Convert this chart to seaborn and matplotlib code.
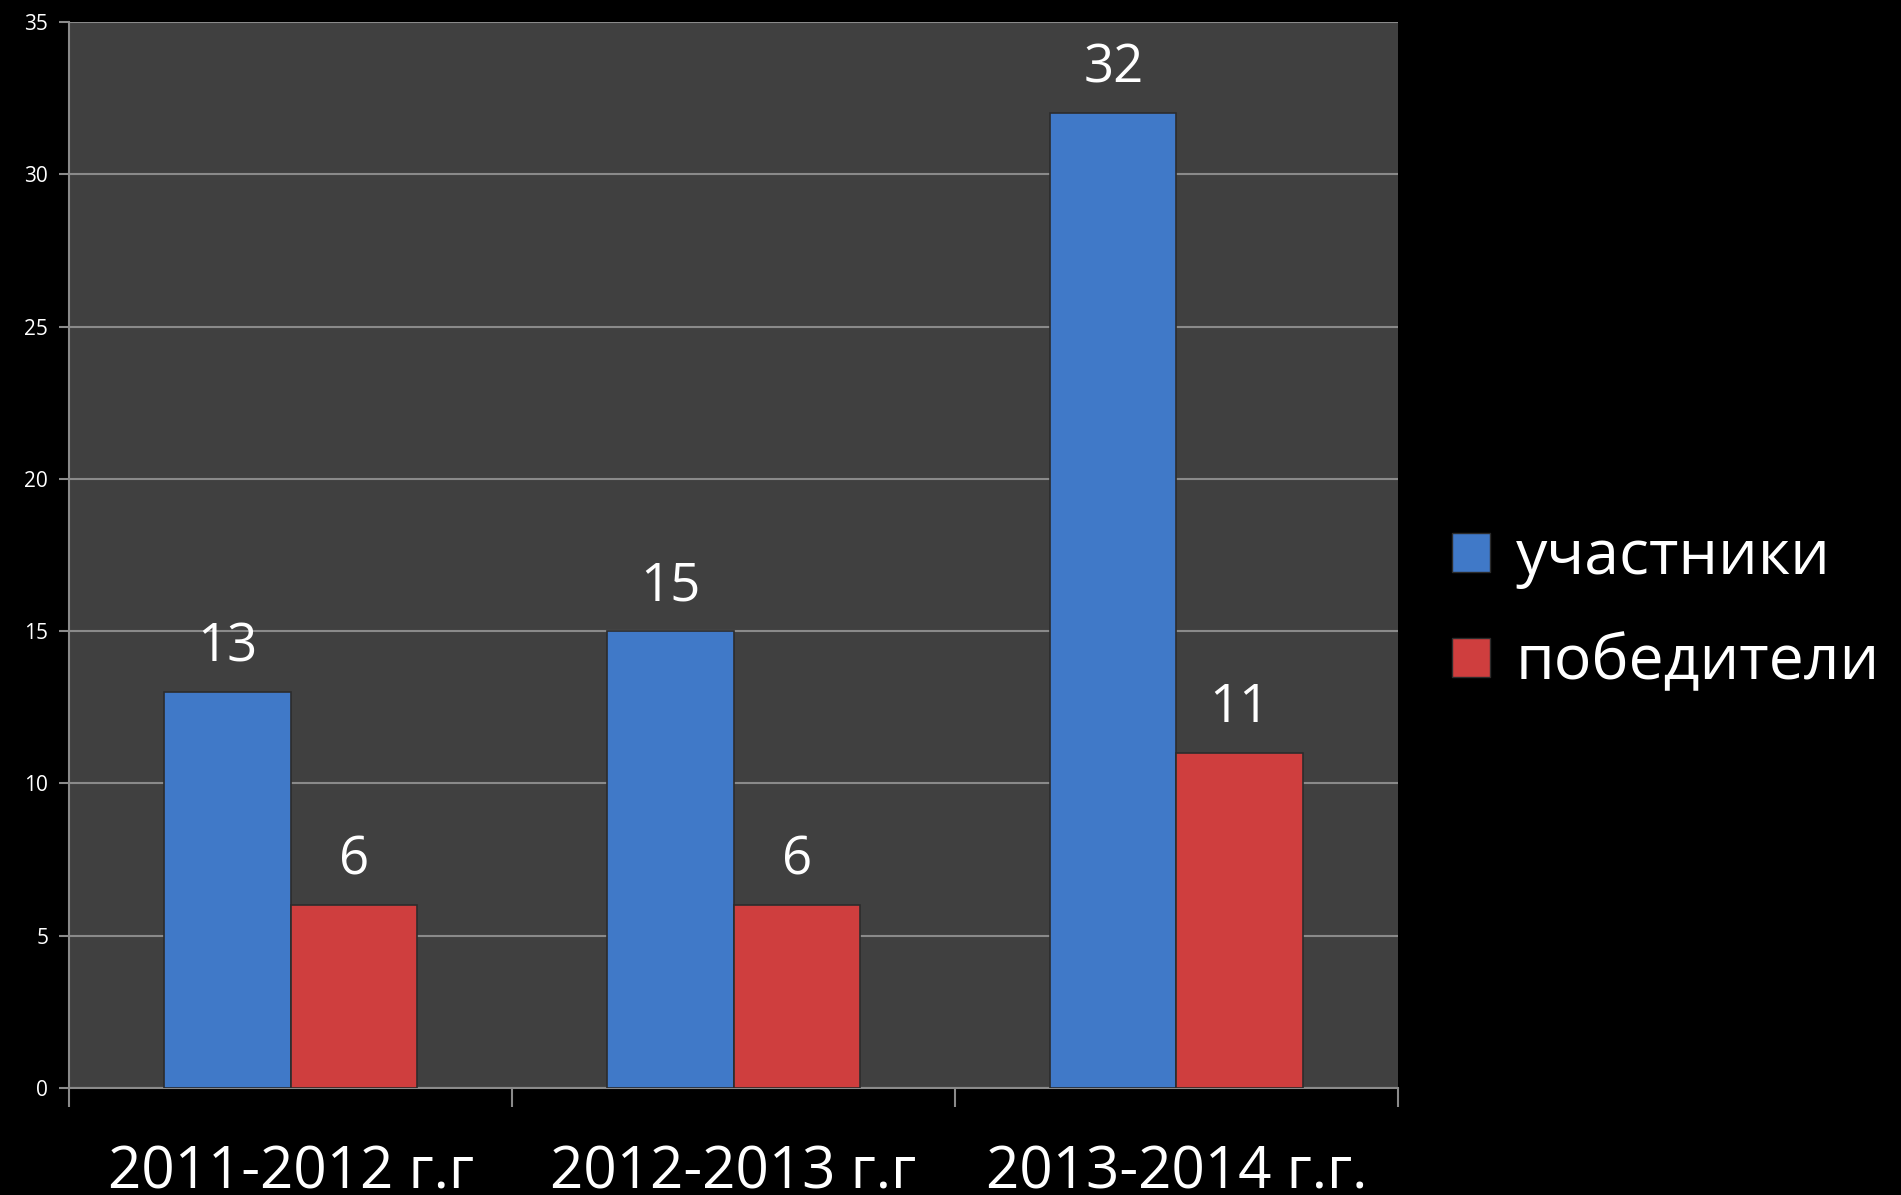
import matplotlib
matplotlib.use("Agg")
import matplotlib.pyplot as plt
import seaborn as sns
import pandas as pd
from matplotlib.patches import Patch

categories = ["2011-2012 г.г", "2012-2013 г.г", "2013-2014 г.г."]
series_names = ["участники", "победители"]
participants = [13, 15, 32]
winners = [6, 6, 11]
y_ticks = [0, 5, 10, 15, 20, 25, 30, 35]

df = pd.DataFrame({
    "cat": categories * 2,
    "series": [series_names[0]] * 3 + [series_names[1]] * 3,
    "value": participants + winners,
})

sns.set_theme(style="dark")
plt.rcParams["font.family"] = ["Open Sans", "DejaVu Sans"]

fig = plt.figure(figsize=(19.01, 11.95), dpi=100, facecolor="black")
ax = fig.add_axes([0.0363, 0.0895, 0.6991, 0.8921])
ax.set_facecolor("#404040")

palette = {series_names[0]: "#4079c8", series_names[1]: "#cf3e3e"}
sns.barplot(data=df, x="cat", y="value", hue="series", palette=palette,
            width=0.57, ax=ax, saturation=1, legend=False,
            edgecolor="#2c2c2c", linewidth=1.2, zorder=3)

for c in ax.containers:
    ax.bar_label(c, padding=13, color="white", fontsize=38)

ax.set_ylim(0, 35)
ax.set_xlim(-0.5, 2.5)
ax.set_yticks(y_ticks)
ax.set_yticklabels([str(t) for t in y_ticks], color="white", fontsize=15)
ax.yaxis.grid(True, color="#8a8a8a", linewidth=1.5, zorder=0)
ax.xaxis.grid(False)
ax.tick_params(axis="y", left=True, length=7, width=1.5, color="#8a8a8a", pad=8)
ax.tick_params(axis="x", which="major", length=0, labelsize=42, labelcolor="white", pad=40)
ax.set_xticks([-0.5, 0.5, 1.5, 2.5], minor=True)
ax.tick_params(axis="x", which="minor", bottom=True, length=14, width=1.5, color="#8a8a8a")
ax.set_xlabel("")
ax.set_ylabel("")
for s in ["top", "right"]:
    ax.spines[s].set_visible(False)
for s in ["left", "bottom"]:
    ax.spines[s].set_visible(True)
    ax.spines[s].set_color("#8a8a8a")
    ax.spines[s].set_linewidth(1.5)

handles = [Patch(facecolor=palette[n], edgecolor="#2c2c2c", label=n) for n in series_names]
leg = fig.legend(handles=handles, loc="center left", bbox_to_anchor=(0.764, 0.489),
                 frameon=False, fontsize=45, handlelength=0.6, handleheight=0.6,
                 handletextpad=0.42, labelspacing=0.68, borderpad=0, borderaxespad=0)
for t in leg.get_texts():
    t.set_color("white")

fig.savefig("out.png", dpi=100, facecolor="black")
